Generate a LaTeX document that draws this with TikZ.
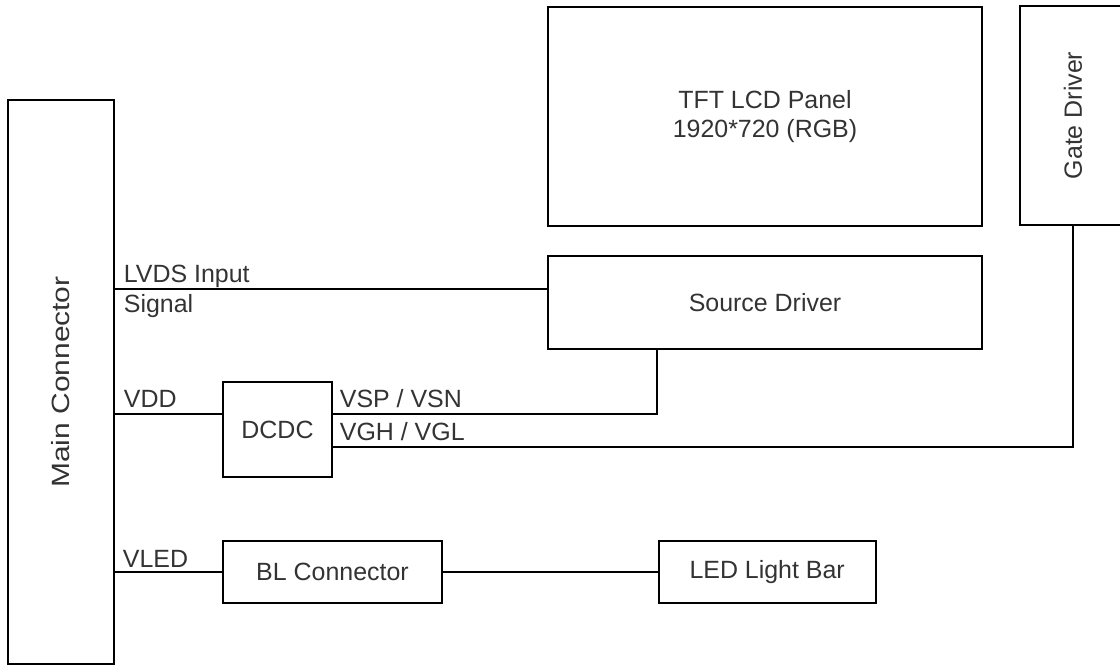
\documentclass[tikz,border=0pt]{standalone}
\usepackage{fontspec}
\setmainfont{Liberation Sans}
\usetikzlibrary{positioning}

\begin{document}
\begin{tikzpicture}[
  x=0.02cm, y=-0.02cm, line width=1pt,
  font=\fontsize{14.2}{16.5}\selectfont,
  b/.style={draw,inner sep=0pt,align=center,text=black!80},
  lb/.style={inner sep=0pt,anchor=base west,text=black!80}]
\useasboundingbox (0,0) rectangle (1120,666);
\clip (0,0) rectangle (1120,666);
\node[b,rotate=90,minimum width=11.28cm,minimum height=2.12cm] (main) at (61,382) {\scalebox{1.2}[1]{Main Connector}};
\node[b,minimum width=8.68cm,minimum height=4.38cm] (tft) at (765,116.5) {TFT LCD Panel\\1920*720 (RGB)};
\node[b,rotate=90,minimum width=4.38cm,minimum height=2.12cm] (gate) at (1073,115.5) {Gate Driver};
\node[b,minimum width=8.68cm,minimum height=1.86cm] (src) at (765,302.5) {Source Driver};
\node[b,minimum width=2.18cm,minimum height=1.9cm] (dcdc) at (277.5,429.5) {DCDC};
\node[b,minimum width=4.38cm,minimum height=1.24cm] (bl) at (332.5,572) {BL Connector};
\node[b,minimum width=4.34cm,minimum height=1.24cm,right=4.3cm of bl] (led) {LED Light Bar};
\coordinate (vsp) at (657,414);
\coordinate (vgh) at (1073,447);
% wires
\draw (main.south |- 0,289) -- (src.west |- 0,289);
\draw (main.south |- 0,414) -- (dcdc.west |- 0,414);
\draw (dcdc.east |- vsp) -- (vsp) -- (vsp |- src.south);
\draw (dcdc.east |- vgh) -- (vgh) -- (gate.west);
\draw (main.south |- bl.west) -- (bl.west);
\draw (bl.east) -- (led.west);
% labels
\node[lb] (lvds) at (123,282) {LVDS Input};
\node[lb] (sig) at (123,312) {Signal};
\node[lb] (vdd) at (123,407) {VDD};
\node[lb] (vspl) at (339,407) {VSP / VSN};
\node[lb] (vghl) at (339,440) {VGH / VGL};
\node[lb] (vled) at (122,567) {VLED};
\end{tikzpicture}
\end{document}
